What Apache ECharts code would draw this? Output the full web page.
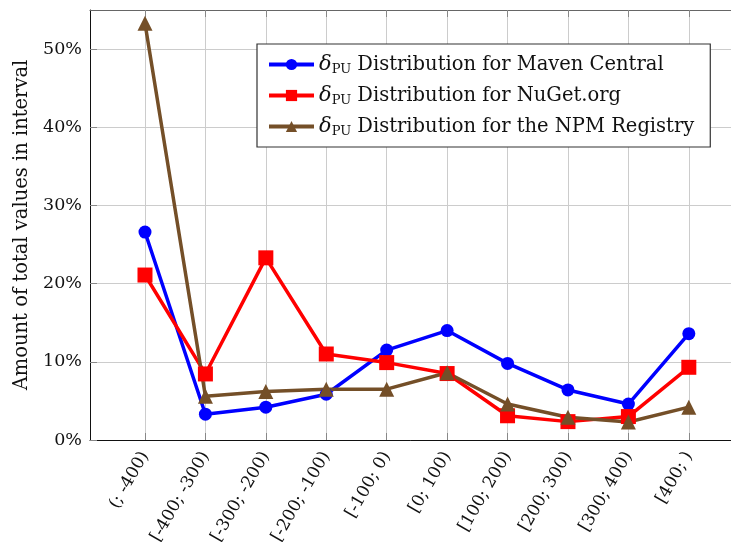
<!DOCTYPE html>
<html>
<head>
<meta charset="utf-8">
<script src="https://cdn.jsdelivr.net/npm/echarts@6/dist/echarts.min.js"></script>
<style>
html,body{margin:0;padding:0;background:#fff;}
#chart{width:731px;height:542px;}
</style>
</head>
<body>
<div id="chart"></div>
<script>
var categories = ['(; -400)', '[-400; -300)', '[-300; -200)', '[-200; -100)', '[-100; 0)', '[0; 100)', '[100; 200)', '[200; 300)', '[300; 400)', '[400; )'];
var mavenValues = [26.6, 3.3, 4.2, 5.85, 11.5, 14.0, 9.8, 6.4, 4.6, 13.6];
var nugetValues = [21.1, 8.45, 23.3, 11.0, 9.9, 8.5, 3.1, 2.35, 3.0, 9.3];
var npmValues = [53.3, 5.6, 6.2, 6.5, 6.5, 8.6, 4.6, 2.9, 2.3, 4.2];
var yTicks = [0, 10, 20, 30, 40, 50];
var seriesNames = ['Maven Central', 'NuGet.org', 'the NPM Registry'];

var FONT = 'DejaVu Serif';
var idx = categories.map(function (c, i) { return i; });
function pairs(vals) { return vals.map(function (v, i) { return [i, v]; }); }

var chart = echarts.init(document.getElementById('chart'), null, {renderer: 'canvas'});

function mkSeries(name, vals, color, symbol, size) {
  return {
    name: name,
    type: 'line',
    data: pairs(vals),
    symbol: symbol,
    symbolSize: size,
    lineStyle: {color: color, width: 3.5},
    itemStyle: {color: color, borderColor: color, borderWidth: 0},
    emphasis: {disabled: true},
    animation: false,
    z: 3
  };
}

var xCommon = {
  type: 'value',
  min: -0.91, max: 10.36
};

chart.setOption({
  animation: false,
  backgroundColor: '#fff',
  grid: {
    left: 90, top: 10, right: -40, bottom: 102,
    outerBoundsMode: 'none',
    containLabel: false,
    show: false
  },
  legend: {
    orient: 'vertical',
    left: 257, top: 44,
    padding: [9, 16, 9, 10],
    itemGap: 8,
    itemWidth: 45, itemHeight: 14,
    backgroundColor: '#fff',
    borderColor: '#333', borderWidth: 1.2,
    lineStyle: {width: 4},
    data: seriesNames,
    formatter: function (name) { return '{d|δ}{s|PU} Distribution for ' + name; },
    textStyle: {
      fontFamily: FONT, fontSize: 19.5, color: '#111', lineHeight: 23,
      rich: {
        d: {fontFamily: FONT, fontStyle: 'italic', fontSize: 21, color: '#111'},
        s: {fontFamily: FONT, fontSize: 13, color: '#111', verticalAlign: 'bottom', padding: [7, 0, 0, 0]}
      }
    }
  },
  xAxis: [
    Object.assign({}, xCommon, {
      position: 'bottom',
      axisLine: {show: true, onZero: false, lineStyle: {color: '#111', width: 1}},
      axisTick: {show: true, inside: true, length: 7, customValues: idx, lineStyle: {color: '#888'}},
      splitLine: {show: true, lineStyle: {color: '#cccccc', width: 1}},
      axisLabel: {
        customValues: idx,
        rotate: 60,
        margin: 13,
        fontFamily: FONT, fontSize: 17, color: '#111',
        formatter: function (v) { return categories[Math.round(v)]; }
      }
    }),
    Object.assign({}, xCommon, {
      position: 'top',
      axisLine: {show: true, onZero: false, lineStyle: {color: '#666', width: 1.2}},
      axisTick: {show: true, inside: true, length: 7, customValues: idx, lineStyle: {color: '#888'}},
      splitLine: {show: false},
      axisLabel: {show: false}
    })
  ],
  yAxis: {
    type: 'value',
    min: 0, max: 55,
    name: 'Amount of total values in interval',
    nameLocation: 'middle',
    nameGap: 58,
    nameTextStyle: {fontFamily: FONT, fontSize: 19.5, color: '#111'},
    axisLine: {show: true, onZero: false, lineStyle: {color: '#111', width: 1}},
    axisTick: {show: true, inside: true, length: 7, customValues: yTicks, lineStyle: {color: '#888'}},
    splitLine: {show: true, lineStyle: {color: '#cccccc', width: 1}},
    axisLabel: {
      customValues: yTicks,
      margin: 8,
      fontFamily: FONT, fontSize: 17.5, color: '#111',
      formatter: function (v) { return v + '%'; }
    }
  },
  series: [
    mkSeries(seriesNames[0], mavenValues, '#0000ff', 'circle', 13),
    mkSeries(seriesNames[1], nugetValues, '#ff0000', 'rect', 15),
    mkSeries(seriesNames[2], npmValues, '#744f28', 'triangle', 15)
  ]
});
</script>
</body>
</html>
